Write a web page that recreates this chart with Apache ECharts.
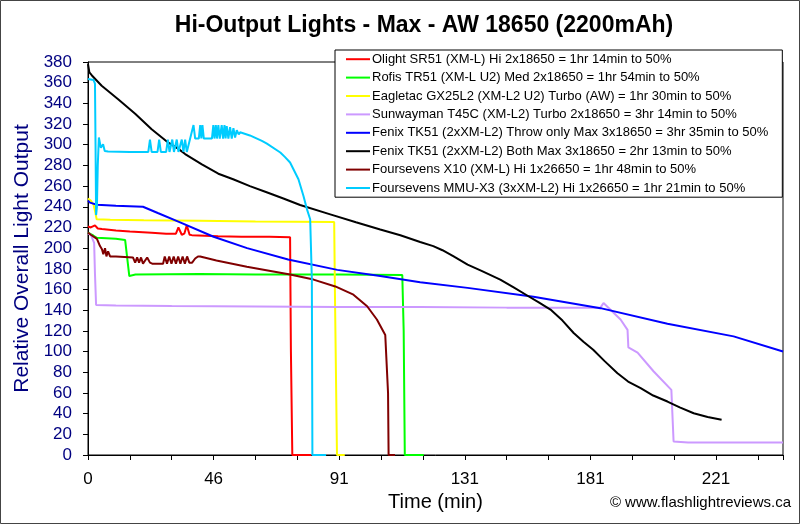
<!DOCTYPE html>
<html>
<head>
<meta charset="utf-8">
<script src="https://cdn.jsdelivr.net/npm/echarts@6/dist/echarts.min.js"></script>
<style>
html,body{margin:0;padding:0;background:#fff;}
#chart{width:800px;height:524px;}
</style>
</head>
<body>
<div id="chart"></div>
<script>
// Tick labels shown under every third x tick (Excel category-like labels)
const xTickLabels = ['0', '46', '91', '131', '181', '221'];
const seriesNames = [
  'Olight SR51 (XM-L) Hi 2x18650 = 1hr 14min to 50%',
  'Rofis TR51 (XM-L U2) Med 2x18650 = 1hr 54min to 50%',
  'Eagletac GX25L2 (XM-L2 U2) Turbo (AW) = 1hr 30min to 50%',
  'Sunwayman T45C (XM-L2) Turbo 2x18650 = 3hr 14min to 50%',
  'Fenix TK51 (2xXM-L2) Throw only Max 3x18650 = 3hr 35min to 50%',
  'Fenix TK51 (2xXM-L2) Both Max 3x18650 = 2hr 13min to 50%',
  'Foursevens X10 (XM-L) Hi 1x26650 = 1hr 48min to 50%',
  'Foursevens MMU-X3 (3xXM-L2) Hi 1x26650 = 1hr 21min to 50%'
];
const seriesColors = ['#FF0000', '#00FF00', '#FFFF00', '#CC99FF', '#0000FF', '#000000', '#800000', '#00CCFF'];

const olightSR51 = [[0,221],[1,220],[2.5,222],[3.5,219],[5,218.5],[10,217],[15,216],[22.8,215],[28,214],[31.5,214],[32.4,220],[33.6,213],[34.5,214],[35.4,222],[36.4,213],[37.2,212.6],[46.6,211.6],[55,211],[65,211],[72.4,210.5],[72.7,100],[73.2,0],[80,0]];
const rofisTR51 = [[0,215],[2,212],[3.2,210],[10,209],[13.3,208],[14,207],[14.5,180],[14.8,173],[17,174.5],[40,175],[60,174.5],[90,174.5],[112.6,174],[113.1,120],[113.5,0],[120.3,0]];
const eagletacGX25L2 = [[0,248],[1,246],[2,242],[2.6,235],[3.1,228],[8,227.5],[20,227],[40,226.5],[60,225.8],[88.2,225.3],[88.5,150],[89.2,0],[92,0]];
const sunwaymanT45C = [[0,214],[1,213],[2.2,205],[2.5,175],[2.9,145],[10,144.5],[30,144],[60,143.5],[90,143],[119,143],[150,142.5],[183.6,142.5],[184.7,147],[190.8,131],[193.3,121],[193.6,104],[196.9,99],[202.6,81],[209,63],[209.8,13],[215,12],[249,12]];
const fenixTK51Throw = [[0,246],[0.7,244],[3.2,242],[10,241],[19.7,240],[25,234],[33,225],[45,211],[57,200],[71.7,189],[89.3,179],[104.7,173],[119,167],[136,161.6],[159.6,153],[183.6,142],[207.6,127],[231.3,114.7],[249,100]];
const fenixTK51Both = [[0,378],[0.5,370],[1.4,367],[4.9,357],[10.8,344],[16.9,330],[22.8,315],[28.8,302],[32.4,296],[34.8,291],[40.8,281],[46.7,272],[52,266.6],[58,260],[64,254],[70,248],[76,241.7],[86.8,232.7],[96,225],[104.7,218],[111.9,212.5],[119,206],[123.7,202],[127,198],[131,192],[136,184],[141,178],[147.7,169.6],[152.5,162],[157.8,153.5],[161.5,147.5],[165.7,140.6],[170,130],[174,118],[177.5,109.5],[181,101.8],[185,91],[189.7,79],[193.5,71],[198,64.6],[202.5,57.5],[207.6,51.7],[212,46],[217,40.4],[222,36.8],[227,34]];
const foursevensX10 = [[0,215],[1,213],[3.2,209],[4.3,202],[5,199],[5.5,194],[6.1,200],[6.6,192],[7.2,197],[7.9,192],[10,192],[16.1,191],[16.9,186],[17.6,191],[18.3,186],[19,191],[19.7,185],[21.2,191],[22.2,186],[23,185],[26.9,185],[27.5,192],[28.3,185],[29.1,192],[29.9,185],[30.7,192],[31.5,185],[32.3,192],[33.1,185],[33.9,192],[34.7,185],[35.5,192],[36.3,186],[37.3,186],[38.4,190],[39.4,192],[40.2,192],[46,188],[56.9,182],[72.4,174.5],[80.8,169.6],[88.6,163],[95.1,155],[100,143.8],[103.5,131],[106.5,116],[107.1,115],[107.5,60],[107.7,0],[110,0]];
const foursevensMMUX3 = [[0,363.5],[1,363],[2,362.5],[2.5,359],[2.7,300],[2.9,232],[3.2,240],[3.5,280],[3.9,307],[4.6,297],[5.4,300.5],[6,294],[7.2,293.5],[15,293],[21.6,293],[22.2,305],[22.8,293],[24.9,293],[25.5,305],[26.1,293],[28.0,293],[28.6,305],[29.2,293],[29.7,293],[30.2,305],[30.8,293],[31.3,293],[31.8,305],[32.4,293],[33.1,293],[33.6,305],[34.2,293],[34.4,293],[34.8,305],[35.4,293],[36.0,293],[36.6,306],[37.3,306],[37.8,319],[38.4,306],[39.7,306],[40.2,319],[40.6,306],[41.0,319],[41.5,306],[44.4,306],[44.9,319],[45.3,306],[45.8,319],[46.2,306],[46.7,319],[47.2,306],[47.9,319],[48.4,306],[48.9,319],[49.3,306],[49.7,318],[50.3,306],[50.9,317],[51.5,306],[52.1,316],[52.7,307],[53.3,314],[54,310],[54.5,312],[58,309],[62.3,303.7],[64.1,301],[68.9,292.5],[70.6,288],[72.4,282.8],[75.4,266.6],[77.2,250.4],[78.4,238],[79.6,228],[80.2,170],[80.4,0],[85.3,0]];

const seriesData = [olightSR51, rofisTR51, eagletacGX25L2, sunwaymanT45C, fenixTK51Throw, fenixTK51Both, foursevensX10, foursevensMMUX3];

const FONT = '"Liberation Sans", Arial, sans-serif';
const chart = echarts.init(document.getElementById('chart'));
chart.setOption({
  animation: false,
  backgroundColor: '#fff',
  textStyle: { fontFamily: FONT },
  grid: { left: 88, top: 62, width: 695, height: 393, show: true, borderColor: '#000', borderWidth: 1, backgroundColor: '#fff' },
  legend: {
    orient: 'vertical', left: 335, top: 50,
    backgroundColor: '#fff', borderColor: '#000', borderWidth: 1,
    padding: [0, 14, 0, 11],
    itemWidth: 24, itemHeight: 2, itemGap: 0, icon: 'rect',
    textStyle: { fontSize: 13, lineHeight: 18.4, color: '#000', fontFamily: FONT, padding: [0, 0, 0, -3] },
    data: seriesNames
  },
  xAxis: {
    type: 'value', min: 0, max: 249, interval: 15,
    axisLine: { onZero: false, lineStyle: { color: '#000', width: 1 } },
    axisTick: { show: true, inside: false, length: 5, lineStyle: { color: '#000' } },
    splitLine: { show: false },
    axisLabel: {
      color: '#000', fontSize: 17, margin: 16, fontFamily: FONT,
      formatter: function (v) { return (v % 45 === 0 && v / 45 < xTickLabels.length) ? xTickLabels[v / 45] : ''; }
    },
    name: 'Time (min)', nameLocation: 'middle', nameGap: 30,
    nameTextStyle: { color: '#000', fontSize: 20, fontFamily: FONT }
  },
  yAxis: {
    type: 'value', min: 0, max: 380, interval: 20,
    axisLine: { show: true, lineStyle: { color: '#000', width: 1 } },
    axisTick: { show: true, inside: false, length: 5, lineStyle: { color: '#000' } },
    splitLine: { show: false },
    axisLabel: { color: '#000080', fontSize: 17, margin: 16, fontFamily: FONT },
    name: 'Relative Overall Light Output', nameLocation: 'middle', nameGap: 49, nameRotate: 90,
    nameTextStyle: { color: '#000080', fontSize: 21, fontFamily: FONT }
  },
  graphic: [
    { type: 'rect', shape: { x: 0.5, y: 0.5, width: 799, height: 523 }, style: { fill: null, stroke: '#444', lineWidth: 1 }, silent: true, z: 100 },
    { type: 'text', x: 424, y: 26, style: { text: 'Hi-Output Lights - Max - AW 18650 (2200mAh)', font: 'bold 23px ' + FONT, fill: '#000', textAlign: 'center', textVerticalAlign: 'middle' } },
    { type: 'text', x: 791, y: 503, style: { text: '\u00A9 www.flashlightreviews.ca', font: '15px ' + FONT, fill: '#000', textAlign: 'right', textVerticalAlign: 'middle' } }
  ],
  series: seriesData.map(function (d, i) {
    return {
      name: seriesNames[i], type: 'line', data: d, showSymbol: false, symbol: 'none',
      itemStyle: { color: seriesColors[i] },
      lineStyle: { color: seriesColors[i], width: 2 },
      clip: true
    };
  })
});
</script>
</body>
</html>
